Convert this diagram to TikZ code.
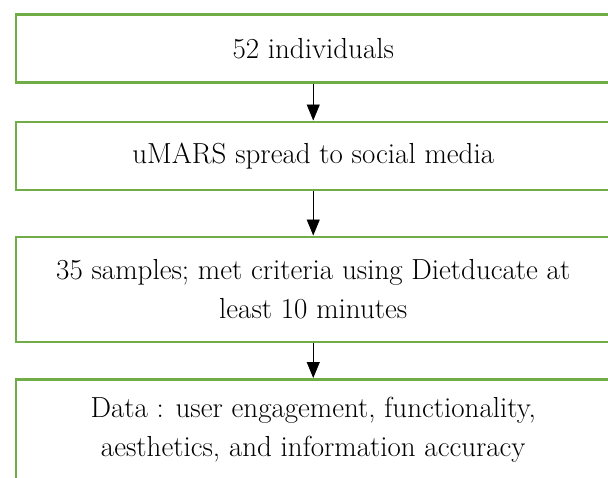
\documentclass[tikz,border=0pt]{standalone}
\usetikzlibrary{shapes,positioning,arrows.meta}
\definecolor{boxgreen}{RGB}{112,173,71}

\begin{document}
\begin{tikzpicture}[x=1pt,y=1pt]

  \useasboundingbox (0,0) rectangle (608,-477);

  \coordinate (Indiv) at (14.5,-13);
  \coordinate (Spread) at (14.5,-120.5);
  \coordinate (Sample) at (14.5,-235.5);
  \coordinate (Data) at (14.5,-378);

  \tikzstyle{fbox}=[draw=boxgreen,line width=2.5pt,
                    shape=rectangle,anchor=north west,
                    inner sep=0pt,minimum width=595pt,
                    minimum height=68pt,align=center,
                    font=\fontsize{29}{39}\selectfont];
  \tikzstyle{flow}=[-{Triangle[length=16pt,width=13pt]},
                    line width=0.9pt,color=black];

  \node[fbox] (IndivBox) at (Indiv) {52 individuals};

  \node[fbox] (SpreadBox) at (Spread) {uMARS spread to social media};
  \draw[flow] (IndivBox) -- (SpreadBox);

  \node[fbox,minimum height=105pt] (SampleBox) at (Sample)
       {35 samples; met criteria using Dietducate at\\ least 10 minutes};
  \draw[flow] (SpreadBox) -- (SampleBox);

  \node[fbox,minimum height=102pt] (DataBox) at (Data)
       {Data : user engagement, functionality,\\
        aesthetics, and information accuracy};
  \draw[flow] (SampleBox) -- (DataBox);

\end{tikzpicture}
\end{document}
